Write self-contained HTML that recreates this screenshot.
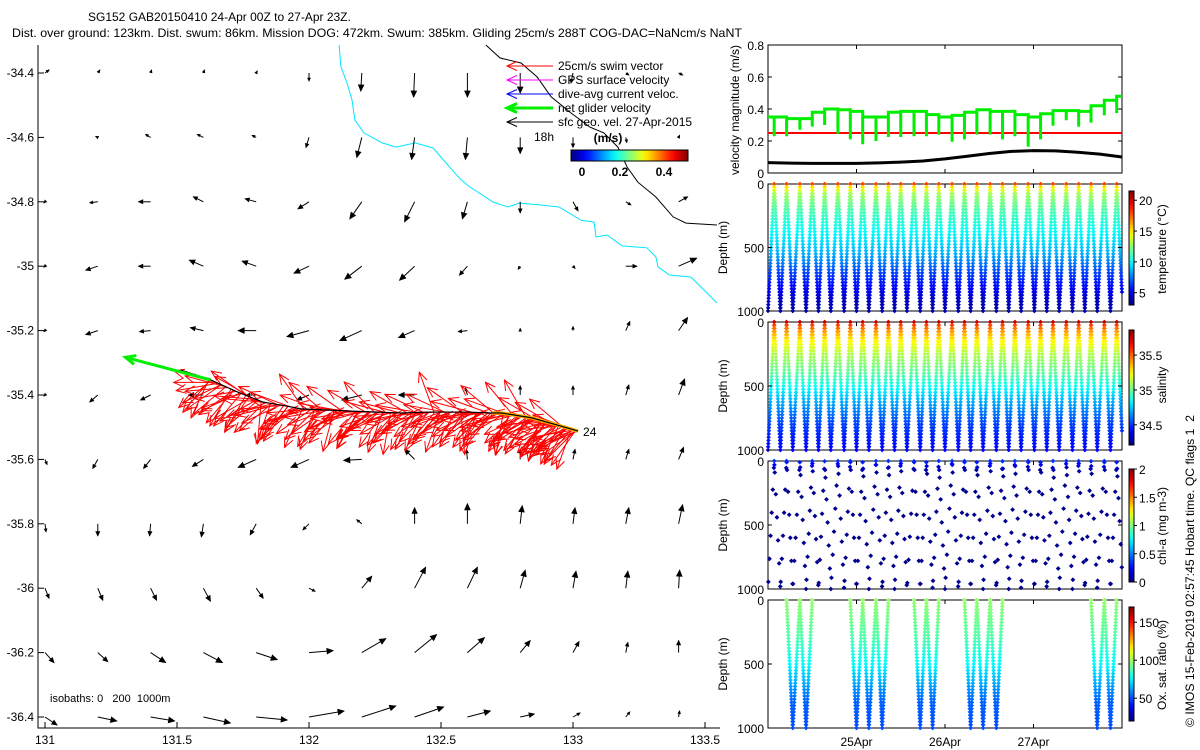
<!DOCTYPE html>
<html><head><meta charset="utf-8"><title>SG152 glider summary</title>
<style>
html,body{margin:0;padding:0;background:#fff;}
svg{display:block;font-family:"Liberation Sans",Arial,sans-serif;}
text{fill:#000;}
</style></head>
<body>
<svg id="fig" xmlns="http://www.w3.org/2000/svg" width="1200" height="750" viewBox="0 0 1200 750">
  <defs>
    <linearGradient id="jetV" x1="0" y1="1" x2="0" y2="0"></linearGradient>
    <linearGradient id="jetH" x1="0" y1="0" x2="1" y2="0"></linearGradient>
  </defs>
  <text x="88" y="21" font-size="12">SG152 GAB20150410 24-Apr 00Z to 27-Apr 23Z.</text>
  <text x="12" y="37" font-size="12" textLength="730" lengthAdjust="spacingAndGlyphs">Dist. over ground: 123km. Dist. swum: 86km. Mission DOG: 472km. Swum: 385km. Gliding 25cm/s 288T COG-DAC=NaNcm/s NaNT</text>
  <g id="map"></g>
  <g id="panels"></g>
  <text transform="translate(1194,727) rotate(-90)" font-size="12" textLength="312" lengthAdjust="spacingAndGlyphs" style="white-space:pre">© IMOS 15-Feb-2019 02:57:45 Hobart time. QC flags 1  2</text>
</svg>
<script>
// ---------------- DATA ----------------
const quiverLons = [131.0,131.2,131.4,131.6,131.8,132.0,132.2,132.4,132.6,132.8,133.0,133.2,133.4];
const quiverLats = [-34.4,-34.6,-34.8,-35.0,-35.2,-35.4,-35.6,-35.8,-36.0,-36.2,-36.4];
const quiverU = [
 [4,2,1,1,1,0,-1,-1,0,0,-2,3,4],
 [0,-2,-5,-6,-4,-3,-5,-3,-2,0,0,1,1],
 [-1,-8,-12,-10,-11,-11,-12,-10,-5,0,5,5,9],
 [-1,-12,-12,-14,-14,-15,-17,-15,-8,-2,2,11,18],
 [-1,-12,-11,-13,-18,-22,-22,-16,-9,0,0,4,9],
 [-1,-8,-10,-15,-10,-12,-20,-16,-2,0,0,3,6],
 [2,-5,-7,-11,-18,-18,-18,-10,-1,0,2,3,5],
 [1,0,-1,-2,-6,-6,-5,0,0,2,2,3,4],
 [4,5,6,7,7,6,10,11,10,5,3,2,1],
 [9,10,15,19,21,24,24,22,17,10,6,2,0],
 [12,19,24,27,31,35,34,29,23,14,7,4,1]];
const quiverV = [
 [3,3,3,3,2,-8,-18,-24,-24,-20,-10,-2,-2],
 [0,1,3,3,2,-10,-20,-22,-22,-16,-10,-5,2],
 [-1,-1,0,5,3,-7,-17,-20,-17,-11,-9,-3,5],
 [-1,-4,0,6,5,-7,-13,-14,-9,-3,-2,0,8],
 [-1,-4,-1,3,0,-6,-10,-7,-1,2,4,9,13],
 [-1,-7,-5,0,0,-5,-5,0,7,9,9,10,16],
 [-5,-9,-9,-7,-8,-8,-1,10,10,10,10,10,12],
 [-8,-12,-12,-13,-11,-6,4,16,20,18,16,16,19],
 [-10,-12,-12,-13,-10,-3,12,21,21,18,17,17,18],
 [-10,-9,-10,-10,-7,2,14,18,15,12,11,10,12],
 [-8,-4,-4,-6,-3,6,11,10,6,3,4,5,6]];
const isobath200Lon = [132.114,132.121,132.144,132.163,132.174,132.208,132.277,132.330,132.402,132.470,132.542,132.576,132.610,132.697,132.754,132.795,132.879,132.947,133.030,133.080,133.087,133.129,133.186,133.280,133.314,133.322,133.364,133.447,133.489,133.545];
const isobath200Lat = [-34.313,-34.381,-34.431,-34.484,-34.546,-34.586,-34.617,-34.630,-34.617,-34.633,-34.701,-34.732,-34.754,-34.801,-34.816,-34.804,-34.810,-34.816,-34.857,-34.863,-34.909,-34.903,-34.937,-34.943,-34.971,-35.002,-35.027,-35.034,-35.068,-35.114];
const coastLon = [132.670,132.723,132.803,132.864,132.917,132.992,133.064,133.117,133.170,133.205,133.246,133.314,133.379,133.428,133.545];
const coastLat = [-34.313,-34.353,-34.369,-34.412,-34.474,-34.524,-34.568,-34.586,-34.630,-34.692,-34.739,-34.785,-34.847,-34.866,-34.872];
const trackLon = [133.019,132.939,132.844,132.730,132.692,132.597,132.464,132.350,132.160,131.970,131.913,131.825,131.730,131.627,131.513];
const trackLat = [-35.512,-35.493,-35.471,-35.456,-35.456,-35.453,-35.453,-35.456,-35.450,-35.443,-35.434,-35.422,-35.391,-35.353,-35.322];
const swimHeadings = [200,160,215,175,230,150,195,240,170,210,120,225,185,250,160,205,140,220,190,235,165,200,275,180,215,155,230,110,195,245,170,210,150,225,185,260,165,200,135,220,190,240,175,205,145,230,180,215,160,250,195,125,210,170,235,185,155,220,200,265,175,210,145,230,190,240,165,205,180,220];
const swimHeadings2 = [235,190,250,170,215,140,245,200,165,225,185,255,150,210,240,175,220,130,195,260,180,230,160,205,245,190,215,145,235,200,170,250,185,225,155,210,240,195,165,230,205,250,180,220,150,240,190,215,170,255,200,140,225,185,245,210,160,235,195,250,175,220,150,240,205,230,185,215,165,245];
const swimHeadings3 = [205,215,225,200,210,230,195,220,240,205,185,215,225,210,200,235,220,190,210,230,215,205,225,195,240,210,200,220,230,185,215,205,225,235,210,195,220,200,230,215,205,240,190,225,210,200,235,215,220,195,230,205,210,225,190,240,215,200,220,230,205,195,225,210,235,200,215,220,190,230];
const swimSpeed = 25; // cm/s
const netGliderU = -0.34, netGliderV = 0.09; // m/s
const diveStart = [24.07,24.21,24.36,24.50,24.64,24.79,24.93,25.07,25.22,25.36,25.50,25.65,25.79,25.93,26.08,26.22,26.36,26.51,26.65,26.79,26.94,27.08,27.22,27.37,27.51,27.65,27.80,27.94];
const greenHigh = [0.35,0.34,0.34,0.38,0.40,0.395,0.385,0.35,0.35,0.38,0.385,0.385,0.365,0.35,0.36,0.38,0.395,0.385,0.385,0.365,0.35,0.37,0.39,0.39,0.385,0.42,0.455,0.48];
const greenLow = [0.23,0.23,0.27,0.29,0.30,0.245,0.21,0.18,0.20,0.225,0.225,0.23,0.23,0.24,0.195,0.21,0.24,0.24,0.21,0.23,0.165,0.21,0.295,0.33,0.29,0.315,0.36,0.375];
const swimLine = 0.25;
const geoTimes = [24,24.25,24.5,24.75,25,25.25,25.5,25.75,26,26.25,26.5,26.75,27,27.25,27.5,27.75,28];
const geoSpeed = [0.065,0.062,0.06,0.06,0.06,0.063,0.068,0.075,0.088,0.105,0.122,0.135,0.14,0.138,0.13,0.118,0.10];
const tempDepth = [0,25,75,150,250,400,550,700,800,900,1000];
const tempVal = [18,15,13,12,11,9.8,8.5,6.5,5.5,4.3,3.8];
const salDepth = [0,25,75,150,250,400,500,600,700,800,900,1000];
const salVal = [35.75,35.55,35.4,35.25,35.12,34.98,34.85,34.72,34.62,34.52,34.46,34.42];
const chlDepth = [0,50,100,1000];
const chlVal = [0.35,0.12,0.03,0.03];
const chlSampleDepth = [10,70,240,420,600,780,960];
const chlShift = [20,0,40,10,60,30,0,50,20,40,10,0,30,60,20,0,40,10,50,30,0,20,60,40,10,30,0,50,20];
const oxDepth = [0,300,500,700,800,1000];
const oxVal = [98,88,76,60,53,50];
const oxDives = [1,2,6,7,8,11,12,15,16,17,25,26];
const yTicksVel = [0,0.2,0.4,0.6,0.8];
const yTicksDepth = [0,500,1000];
const dayTicks = [25,26,27];
const dayLabels = ["25Apr","26Apr","27Apr"];
const lonTicks = [131,131.5,132,132.5,133,133.5];
const latTicks = [-34.4,-34.6,-34.8,-35,-35.2,-35.4,-35.6,-35.8,-36,-36.2,-36.4];

// ---------------- HELPERS ----------------
const NS = "http://www.w3.org/2000/svg";
function mk(tag, attrs, parent){const e=document.createElementNS(NS,tag);for(const k in attrs)e.setAttribute(k,attrs[k]);parent.appendChild(e);return e;}
function clamp(v){return Math.max(0,Math.min(1,v));}
function jet(t){t=clamp(t);const r=clamp(1.5-Math.abs(4*t-3)),g=clamp(1.5-Math.abs(4*t-2)),b=clamp(1.5-Math.abs(4*t-1));return "rgb("+Math.round(r*255)+","+Math.round(g*255)+","+Math.round(b*255)+")";}
function interp(xs,ys,x){if(x<=xs[0])return ys[0];for(let i=1;i<xs.length;i++){if(x<=xs[i]){const f=(x-xs[i-1])/(xs[i]-xs[i-1]);return ys[i-1]+f*(ys[i]-ys[i-1]);}}return ys[ys.length-1];}
['jetV','jetH'].forEach(id=>{const g=document.getElementById(id);for(let i=0;i<=20;i++){mk('stop',{offset:(i/20),'stop-color':jet(i/20)},g);}});

const map=document.getElementById('map');
const panels=document.getElementById('panels');

// ---------------- MAP ----------------
const mx = lon => 45+(lon-131)*264;
const my = lat => 73+(-34.4-lat)*322;
let ax=mk('path',{d:'M38,45 L38,728 L720,728','fill':'none','stroke':'#000','stroke-width':1},map);


lonTicks.forEach(l=>{
  const x=mx(l);
  const t=mk('line',{x1:x,y1:728,x2:x,y2:722,stroke:'#000'},map);
  
  
  const tx=mk('text',{x:x,y:744,'font-size':12,'text-anchor':'middle'},map);
  
  
  tx.textContent=String(l);
});
latTicks.forEach(l=>{
  const y=my(l);
  const t=mk('line',{x1:38,y1:y,x2:44,y2:y,stroke:'#000'},map);
  
  
  const tx=mk('text',{x:34,y:y+4,'font-size':12,'text-anchor':'end'},map);
  
  
  tx.textContent=String(l);
});
let d=isobath200Lon.map((l,i)=>(i?'L':'M')+mx(l).toFixed(1)+','+my(isobath200Lat[i]).toFixed(1)).join(' ');
let cy=mk('path',{d:d,fill:'none',stroke:'#00e5ff','stroke-width':1},map);


d=coastLon.map((l,i)=>(i?'L':'M')+mx(l).toFixed(1)+','+my(coastLat[i]).toFixed(1)).join(' ');
let co=mk('path',{d:d,fill:'none',stroke:'#000','stroke-width':1},map);


function arrow(parent,x0,y0,dx,dy,color,width,filled,name){
  const len=Math.hypot(dx,dy); if(len<0.5)return;
  const g=mk('g',{},parent);
  
  
  const x1=x0+dx,y1=y0+dy;
  mk('line',{x1:x0,y1:y0,x2:x1,y2:y1,stroke:color,'stroke-width':width},g);
  const hl=filled?Math.min(6,Math.max(2.5,len*0.35)):Math.min(10,len*0.3);
  const ux=dx/len,uy=dy/len,px=-uy,py=ux,hw=hl*0.45;
  const ax1=x1-ux*hl+px*hw,ay1=y1-uy*hl+py*hw,ax2=x1-ux*hl-px*hw,ay2=y1-uy*hl-py*hw;
  if(filled) mk('path',{d:`M${x1},${y1} L${ax1},${ay1} L${ax2},${ay2} Z`,fill:color,stroke:color,'stroke-width':0.8},g);
  else mk('path',{d:`M${ax1},${ay1} L${x1},${y1} L${ax2},${ay2}`,fill:'none',stroke:color,'stroke-width':width},g);
}
const QS=1.0;
quiverLats.forEach((lat,r)=>quiverLons.forEach((lon,c)=>{
  arrow(map,mx(lon),my(lat),quiverU[r][c]*QS,-quiverV[r][c]*QS,'#000',1,true,'geo-velocity-arrow');
}));
const trackPts=trackLon.map((l,i)=>[mx(l),my(trackLat[i])]);
function along(f){let tot=0,seg=[];for(let i=1;i<trackPts.length;i++){const s=Math.hypot(trackPts[i][0]-trackPts[i-1][0],trackPts[i][1]-trackPts[i-1][1]);seg.push(s);tot+=s;}
  let tgt=f*tot;for(let i=0;i<seg.length;i++){if(tgt<=seg[i]){const q=tgt/seg[i];return [trackPts[i][0]+q*(trackPts[i+1][0]-trackPts[i][0]),trackPts[i][1]+q*(trackPts[i+1][1]-trackPts[i][1])];}tgt-=seg[i];}return trackPts[trackPts.length-1];}
const swimG=mk('g',{},map);


[[swimHeadings,1.0,0],[swimHeadings2,1.25,0.006],[swimHeadings3,1.6,0.003]].forEach(set=>{
  const arr=set[0];
  arr.forEach((h,i)=>{
    const f=Math.pow(i/(arr.length-1),set[1])*0.92+set[2];
    const p=along(f);
    const L=swimSpeed*1.7,a=h*Math.PI/180;
    arrow(swimG,p[0],p[1],L*Math.cos(a),-L*Math.sin(a),'#ff0000',1,false,'swim-vector-arrow');
  });
});
let yl=mk('path',{d:trackPts.slice(0,5).map((p,i)=>(i?'L':'M')+p[0]+','+p[1]).join(' '),fill:'none',stroke:'#ffb000','stroke-width':3.5},map);


let tr=mk('path',{d:trackPts.map((p,i)=>(i?'L':'M')+p[0]+','+p[1]).join(' '),fill:'none',stroke:'#000','stroke-width':1.2},map);


const ng0=trackPts[trackPts.length-2];
const ngG=mk('g',{},map);


arrow(ngG,ng0[0],ng0[1],netGliderU*250,-netGliderV*250,'#00ee00',3,false,'net-glider-arrow');
let lab24=mk('text',{x:trackPts[0][0]+5,y:trackPts[0][1]+5,'font-size':12},map);


lab24.textContent='24';
const legItems=[['#ff0000','25cm/s swim vector',1],['#ff00ff','GPS surface velocity',1],['#0000ff','dive-avg current veloc.',1],['#00ee00','net glider velocity',3],['#000','sfc geo. vel. 27-Apr-2015',1]];
legItems.forEach((it,i)=>{
  const y=66+i*14;
  const g=mk('g',{},map);
  
  
  arrow(g,553,y,-46,0,it[0],it[2],false,'legend-arrow');
  const t=mk('text',{x:558,y:y+4,'font-size':12},g);
  
  
  t.textContent=it[1];
});
let h18=mk('text',{x:534,y:141,'font-size':12},map);


h18.textContent='18h';
let cbt=mk('text',{x:608,y:142,'font-size':12,'font-weight':'bold','text-anchor':'middle'},map);


cbt.textContent='(m/s)';
let cbm=mk('rect',{x:571,y:150,width:117,height:11,fill:'url(#jetH)',stroke:'#000','stroke-width':1},map);


[['0',582],['0.2',620],['0.4',664]].forEach(v=>{
  const t=mk('text',{x:v[1],y:176,'font-size':12,'font-weight':'bold','text-anchor':'middle'},map);
  
  
  t.textContent=v[0];
});
let iso=mk('text',{x:50,y:702,'font-size':11,style:'white-space:pre'},map);


iso.textContent='isobaths: 0   200  1000m';

// ---------------- RIGHT PANELS ----------------
const PL=768, PR=1122;
const tx = t => PL+(t-24)*(PR-PL)/4;
function panelFrame(top,bot,name,showX){
  const g=mk('g',{},panels);
  
  
  const r=mk('rect',{x:PL,y:top,width:PR-PL,height:bot-top,fill:'none',stroke:'#000','stroke-width':1},g);
  
  
  dayTicks.forEach((dd,i)=>{
    const x=tx(dd);
    const t=mk('line',{x1:x,y1:bot,x2:x,y2:bot-4,stroke:'#000'},g);
    
    
    const t2=mk('line',{x1:x,y1:top,x2:x,y2:top+4,stroke:'#000'},g);
    
    
    if(showX){
      const l=mk('text',{x:x,y:bot+18,'font-size':12,'text-anchor':'middle'},g);
      
      
      l.textContent=dayLabels[i];
    }
  });
  return g;
}
function yAxis(g,ticks,top,bot,vmin,vmax,fmt){
  ticks.forEach(v=>{
    const y=top+(v-vmin)/(vmax-vmin)*(bot-top);
    const t=mk('line',{x1:PL,y1:y,x2:PL+4,y2:y,stroke:'#000'},g);
    
    
    const t2=mk('line',{x1:PR,y1:y,x2:PR-4,y2:y,stroke:'#000'},g);
    
    
    const l=mk('text',{x:PL-4,y:y+5,'font-size':12,'text-anchor':'end'},g);
    
    
    l.textContent=fmt(v);
  });
}
function vLabel(g,x,cyy,txt,name){
  const t=mk('text',{transform:`translate(${x},${cyy}) rotate(-90)`,'font-size':12,'text-anchor':'middle'},g);
  
  
  t.textContent=txt;
}
const VT=45,VB=173;
const vy=v=>VB-(v/0.8)*(VB-VT);
const gv=panelFrame(VT,VB,'velocity-panel',false);
yAxis(gv,yTicksVel,VT,VB,0.8,0,v=>v===0?'0':v.toFixed(1));
vLabel(gv,739,110,'velocity magnitude (m/s)','velocity-y-axis-title');
let rl=mk('line',{x1:PL,y1:vy(swimLine),x2:PR,y2:vy(swimLine),stroke:'#ff0000','stroke-width':2},gv);


let gp=`M${PL},${vy(greenHigh[0])} L${tx(diveStart[0])},${vy(greenHigh[0])}`;
diveStart.forEach((t,i)=>{
  const x0=tx(t), x1=i<diveStart.length-1?tx(diveStart[i+1]):PR;
  gp+=` L${x0},${vy(greenLow[i])} L${x0},${vy(greenHigh[i])} L${x1},${vy(greenHigh[i])}`;
});
let gl=mk('path',{d:gp,fill:'none',stroke:'#00ee00','stroke-width':3,'stroke-linejoin':'miter'},gv);


let bl=mk('path',{d:geoTimes.map((t,i)=>(i?'L':'M')+tx(t)+','+vy(geoSpeed[i])).join(' '),fill:'none',stroke:'#000','stroke-width':3},gv);



function diamond(g,x,y,color,r,name){
  const p=mk('path',{d:`M${x-r},${y} L${x},${y-r} L${x+r},${y} L${x},${y+r} Z`,fill:color},g);
  
  
}
function profilePanel(top,bot,name,dep,val,vmin,vmax,cb,label,labelName,opts){
  const g=panelFrame(top,bot,name,opts.showX);
  const dy=z=>top+z/1000*(bot-top);
  const marks=mk('g',{},g);
  
  
  const half=(diveStart[1]-diveStart[0])/2;
  const legs=[];
  if(!opts.dives) legs.push([24.0,diveStart[0],1000,0,0]);
  diveStart.forEach((t,i)=>{
    if(opts.dives && opts.dives.indexOf(i)<0) return;
    const next=i<diveStart.length-1?diveStart[i+1]:t+2*half;
    legs.push([t,t+half,0,1000,i]);
    legs.push([t+half,next,1000,0,i]);
  });
  legs.forEach(L=>{
    let zs;
    if(opts.sample){zs=opts.sample.map(z=>Math.min(1000,Math.max(0,z+(chlShift[L[4]]||0)*(L[2]===0?1:-0.8))));}
    else {zs=[];for(let z=0;z<=1000;z+=25)zs.push(z);}
    zs.forEach(z=>{
      const f=L[2]===0?z/1000:1-z/1000;
      const t=L[0]+f*(L[1]-L[0]);
      if(t>28)return;
      const v=interp(dep,val,z);
      diamond(marks,tx(t),dy(z),jet((v-vmin)/(vmax-vmin)),opts.r||2.3,name+'-point');
    });
  });
  yAxis(g,yTicksDepth,top,bot,0,1000,v=>String(v));
  vLabel(g,727,(top+bot)/2,'Depth (m)',name+'-y-axis-title');
  const c=mk('rect',{x:1129,y:cb.top,width:5,height:cb.bot-cb.top,fill:'url(#jetV)',stroke:'#000','stroke-width':1},g);
  
  
  cb.ticks.forEach(tv=>{
    const y=cb.bot-(tv-vmin)/(vmax-vmin)*(cb.bot-cb.top);
    const t=mk('line',{x1:1134,y1:y,x2:1137,y2:y,stroke:'#000'},g);
    
    
    const l=mk('text',{x:1139,y:y+5,'font-size':12},g);
    
    
    l.textContent=String(tv);
  });
  vLabel(g,1166,cb.mid,label,labelName);
}
profilePanel(184,311,'temperature-panel',tempDepth,tempVal,3,21.5,{top:191,bot:305,mid:249,ticks:[5,10,15,20]},'temperature (°C)','temperature-colorbar-title',{showX:false});
profilePanel(322,450,'salinity-panel',salDepth,salVal,34.21,35.86,{top:330,bot:445,mid:385,ticks:[34.5,35,35.5]},'salinity','salinity-colorbar-title',{showX:false});
profilePanel(461,589,'chlorophyll-panel',chlDepth,chlVal,0,2,{top:469,bot:582,mid:526,ticks:[0,0.5,1,1.5,2]},'chl-a (mg m-3)','chl-colorbar-title',{showX:false,sample:chlSampleDepth,r:2.4});
profilePanel(600,728,'oxygen-panel',oxDepth,oxVal,20,170,{top:607,bot:721,mid:665,ticks:[50,100,150]},'Ox. sat. ratio (%)','oxygen-colorbar-title',{showX:true,dives:oxDives});
</script>
</body></html>
